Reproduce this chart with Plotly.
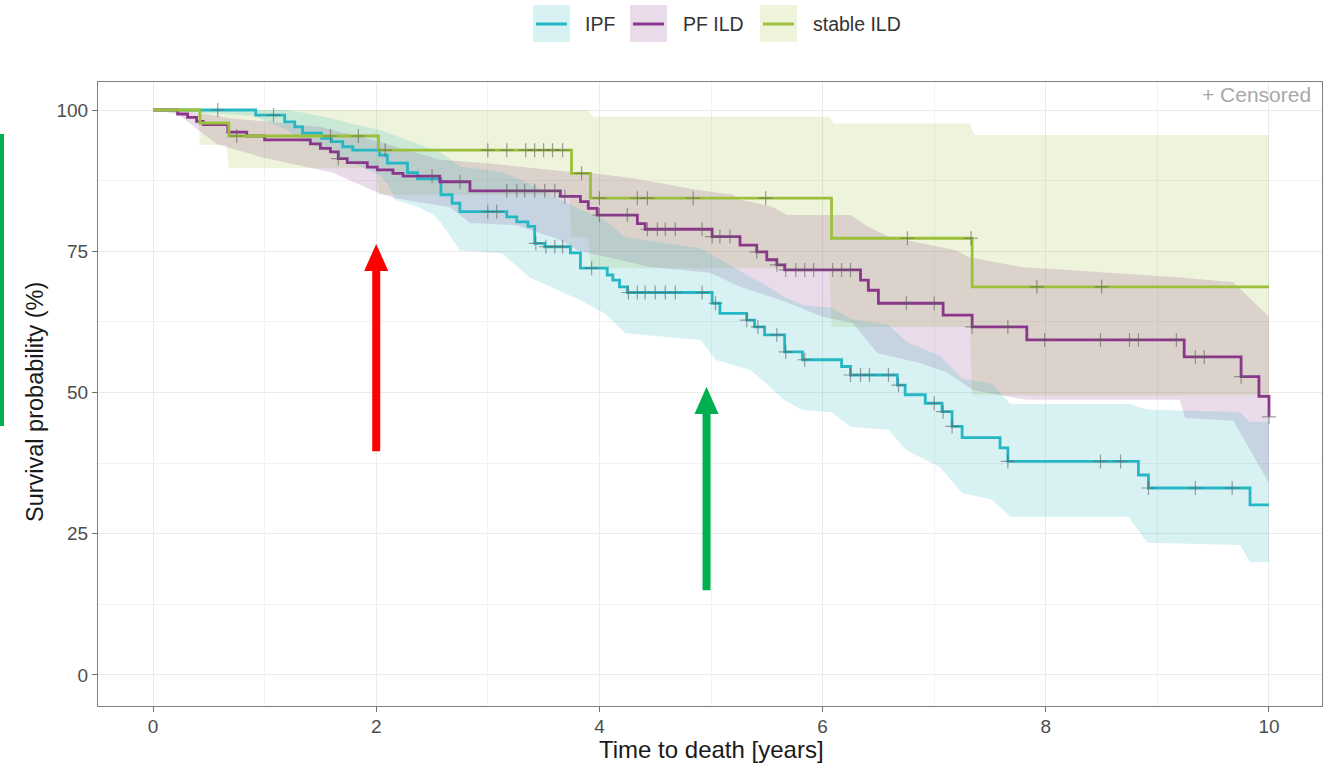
import numpy as np
import plotly.graph_objects as go

# ---------------- data ----------------
groups = ["IPF", "PF ILD", "stable ILD"]

ipf_t = [0, 0.92, 1.18, 1.27, 1.34, 1.51, 1.60, 1.70, 1.79, 2.03, 2.10, 2.28, 2.37, 2.58, 2.68, 2.75,
         3.17, 3.26, 3.36, 3.42, 3.51, 3.74, 3.83, 4.07, 4.12, 4.18, 4.25, 5.01, 5.08, 5.32, 5.39, 5.48,
         5.66, 5.82, 6.17, 6.25, 6.67, 6.74, 6.92, 7.07, 7.16, 7.25, 7.59, 7.66, 8.83, 8.92, 9.83, 10.0]
ipf_s = [100, 99.1, 97.9, 97.0, 95.9, 95.0, 94.4, 93.5, 92.9, 92.0, 90.6, 88.9, 87.8, 85.0, 83.5, 82.0,
         81.1, 80.2, 79.4, 76.4, 75.8, 74.7, 72.0, 70.8, 69.9, 68.7, 67.7, 65.8, 64.0, 62.8, 61.6, 60.2,
         57.2, 55.8, 54.6, 53.1, 51.3, 49.6, 48.1, 46.6, 44.0, 42.0, 40.2, 37.8, 35.4, 33.1, 30.1, 30.1]
ipf_cens = [0.58, 1.08, 3.0, 3.08, 3.43, 3.52, 3.6, 3.67, 3.93, 4.26, 4.34, 4.41, 4.5, 4.59, 4.68, 4.92,
            5.04, 5.32, 5.42, 5.59, 5.67, 5.84, 6.25, 6.34, 6.42, 6.59, 6.68, 7.0, 7.08, 7.16, 7.66,
            8.49, 8.67, 8.92, 9.34, 9.67]
ipf_lo_t = [0, 0.9, 1.2, 1.35, 1.6, 1.8, 2.03, 2.1, 2.17, 2.37, 2.51, 2.58, 2.75, 3.13, 3.37, 3.82, 4.05,
            4.23, 4.91, 5.04, 5.35, 5.49, 5.65, 5.82, 6.08, 6.25, 6.59, 6.75, 7.05, 7.25, 7.52, 7.68, 8.74,
            8.91, 9.74, 9.83, 10.0]
ipf_lo = [100, 99, 96.5, 94.5, 92.5, 90.5, 88.5, 87, 84.1, 82.9, 81.5, 80, 75.2, 74.6, 70.4, 66.4, 64,
          60.5, 59.3, 55.8, 54, 51.7, 48.7, 46.9, 46.5, 43.9, 43.4, 39.8, 36.8, 32.2, 31, 28, 28,
          23.4, 23, 20, 20]
ipf_hi_t = [0, 1.2, 1.35, 1.6, 1.8, 2.03, 2.17, 2.37, 2.58, 2.75, 3.13, 3.37, 3.82, 4.05, 4.23, 4.91,
            5.04, 5.35, 5.49, 5.65, 5.82, 6.08, 6.25, 6.59, 6.75, 7.05, 7.25, 7.52, 7.68, 8.74, 8.91,
            9.74, 9.83, 10.0]
ipf_hi = [100, 100, 99.5, 98.5, 97.5, 96.5, 95.5, 94, 92.5, 90, 89, 87, 82.5, 80.5, 77.5, 75.5,
          74, 70.5, 69, 67, 65.5, 65, 63, 62, 59, 56.5, 52.5, 51.5, 48, 48, 47,
          46.5, 44.8, 44.8]

pf_t = [0, 0.22, 0.31, 0.39, 0.45, 0.67, 0.84, 1.0, 1.41, 1.50, 1.59, 1.66, 1.74, 1.92, 2.01, 2.15, 2.24,
        2.57, 2.84, 3.65, 3.83, 3.90, 3.98, 4.34, 4.41, 5.01, 5.26, 5.41, 5.50, 5.59, 5.66, 6.34, 6.41,
        6.50, 7.08, 7.34, 7.83, 9.24, 9.75, 9.91, 10.0]
pf_s = [100, 99.3, 98.7, 98.0, 97.4, 96.1, 95.4, 94.7, 94.0, 93.2, 92.6, 91.4, 90.7, 89.9, 89.4, 88.8, 88.3,
        87.3, 85.7, 84.7, 83.8, 82.6, 81.4, 79.9, 78.9, 77.6, 76.1, 74.9, 73.5, 72.6, 71.7, 69.9, 68.1,
        65.8, 63.7, 61.6, 59.3, 56.3, 52.8, 49.3, 45.7]
pf_cens = [1.66, 2.5, 2.75, 3.17, 3.26, 3.33, 3.42, 3.51, 3.6, 3.69, 4.0, 4.25, 4.43, 4.52, 4.59, 4.68,
           4.92, 5.01, 5.08, 5.17, 5.41, 5.59, 5.67, 5.76, 5.84, 5.92, 6.09, 6.17, 6.25, 6.75, 7.0,
           7.34, 7.66, 7.99, 8.49, 8.75, 8.83, 9.17, 9.34, 9.42, 9.75, 10.0]
pf_lo_t = [0, 0.22, 0.57, 1.0, 1.6, 2.0, 2.17, 2.66, 2.84, 3.26, 3.65, 3.8, 4.45, 4.99, 5.26, 5.62, 6.0,
           6.27, 6.49, 6.87, 7.11, 7.35, 7.83, 9.2, 9.25, 9.68, 10.0]
pf_lo = [100, 99.3, 94, 91.5, 89, 85.5, 84.4, 82.8, 80, 79.6, 77, 75.2, 72.2, 71.2, 68.7, 66.4, 63.4,
         62.3, 57, 55.2, 53.6, 50.4, 48.7, 48.7, 45.5, 45, 34]
pf_hi_t = [0, 0.22, 0.4, 0.7, 1.0, 1.5, 2.0, 2.57, 2.99, 3.7, 3.94, 4.27, 4.9, 5.2, 5.26, 5.55, 5.68,
           6.25, 6.41, 6.59, 7.19, 7.31, 7.78, 9.18, 9.68, 10.0]
pf_hi = [100, 100, 99.5, 98.5, 98, 97, 94.5, 91.2, 90.6, 89.1, 88.8, 88, 85.8, 85, 84.1, 82.9, 81.4,
         81.4, 79.3, 77.6, 75.2, 74, 72.2, 70.4, 69.5, 63.4]

st_t = [0, 0.42, 0.68, 2.02, 3.75, 3.92, 6.08, 7.34, 10.0]
st_s = [100, 97.7, 95.4, 92.9, 88.8, 84.4, 77.3, 68.7, 68.7]
st_cens = [0.75, 1.59, 1.84, 2.08, 3.0, 3.17, 3.34, 3.42, 3.5, 3.58, 3.67, 3.84, 4.0, 4.34, 4.43, 4.84,
           5.49, 6.76, 7.33, 7.92, 8.5]
st_lo_t = [0, 0.41, 0.42, 0.66, 0.68, 2.0, 2.02, 3.73, 3.75, 3.9, 3.92, 6.06, 6.08, 7.32, 7.34, 10.0]
st_lo = [100, 100, 93.8, 93.8, 89.7, 89.7, 85.0, 85.0, 77.5, 77.5, 72.0, 72.0, 61.6, 61.6, 49.5, 49.5]
st_hi_t = [0, 3.9, 3.95, 6.06, 6.1, 7.32, 7.36, 10.0]
st_hi = [100, 100, 98.8, 98.8, 97.6, 97.6, 95.6, 95.6]

x_ticks = [0, 2, 4, 6, 8, 10]
y_ticks = [0, 25, 50, 75, 100]

# ---------------- styling ----------------
colors = {"IPF": (38, 183, 196), "PF ILD": (139, 54, 140), "stable ILD": (157, 192, 58)}
ALPHA = 0.18
FONT = "Liberation Sans, Arial, sans-serif"

series = {
    "IPF": (ipf_t, ipf_s, ipf_cens, ipf_lo_t, ipf_lo, ipf_hi_t, ipf_hi),
    "PF ILD": (pf_t, pf_s, pf_cens, pf_lo_t, pf_lo, pf_hi_t, pf_hi),
    "stable ILD": (st_t, st_s, st_cens, st_lo_t, st_lo, st_hi_t, st_hi),
}


def rgb(c, a=None):
    return f"rgb({c[0]},{c[1]},{c[2]})" if a is None else f"rgba({c[0]},{c[1]},{c[2]},{a})"


def step_at(ts, ss, c):
    idx = np.searchsorted(np.asarray(ts), c, side="right") - 1
    return np.asarray(ss)[idx]


fig = go.Figure()

# confidence bands
for g in ["stable ILD", "PF ILD", "IPF"]:
    t, s, cens, lo_t, lo, hi_t, hi = series[g]
    fig.add_trace(go.Scatter(
        x=list(hi_t) + list(lo_t)[::-1], y=list(hi) + list(lo)[::-1],
        mode="lines", fill="toself", fillcolor=rgb(colors[g], ALPHA),
        line=dict(width=0), hoverinfo="skip", showlegend=False))

# survival curves
for g in ["IPF", "PF ILD", "stable ILD"]:
    t, s, cens, *_ = series[g]
    fig.add_trace(go.Scatter(x=t, y=s, mode="lines", name=g,
                             line=dict(color=rgb(colors[g]), width=2.8, shape="hv"),
                             showlegend=False))

# censor marks
for g in ["IPF", "PF ILD", "stable ILD"]:
    t, s, cens, *_ = series[g]
    fig.add_trace(go.Scatter(
        x=cens, y=step_at(t, s, cens), mode="markers",
        marker=dict(symbol="cross-thin", size=10,
                    line=dict(width=1.2, color="rgba(95,95,95,0.6)")),
        showlegend=False, hoverinfo="skip"))

# ---------------- layout ----------------
L, T, W, H = 98, 82, 1224, 624  # plot area in pixels


def px(xp):
    return (xp - L) / W


def py(yp):
    return (T + H - yp) / H


shapes = []
annotations = []

# custom legend (top centre)
leg_items = [("IPF", 533, 583), ("PF ILD", 630, 681), ("stable ILD", 760, 811)]
for g, bx, tx in leg_items:
    shapes.append(dict(type="rect", xref="paper", yref="paper",
                       x0=px(bx), x1=px(bx + 37), y0=py(42), y1=py(5),
                       fillcolor=rgb(colors[g], ALPHA), line=dict(width=0)))
    shapes.append(dict(type="line", xref="paper", yref="paper",
                       x0=px(bx + 3), x1=px(bx + 34), y0=py(24), y1=py(24),
                       line=dict(color=rgb(colors[g]), width=3)))
    annotations.append(dict(xref="paper", yref="paper", x=px(tx), y=py(24), text=g,
                            showarrow=False, xanchor="left", yanchor="middle",
                            font=dict(family=FONT, size=19.5, color="#333333")))

annotations.append(dict(xref="paper", yref="paper", x=px(1313), y=py(94), text="+ Censored",
                        showarrow=False, xanchor="right", yanchor="middle",
                        font=dict(family=FONT, size=21, color="#A8A8A8")))

# axis titles placed explicitly
annotations.append(dict(xref="paper", yref="paper", x=px(35), y=py(402), text="Survival probability (%)",
                        showarrow=False, textangle=-90, xanchor="center", yanchor="middle",
                        font=dict(family=FONT, size=23.5, color="#1A1A1A")))
annotations.append(dict(xref="paper", yref="paper", x=px(711), y=py(749), text="Time to death [years]",
                        showarrow=False, xanchor="center", yanchor="middle",
                        font=dict(family=FONT, size=24, color="#1A1A1A")))


# overlay arrows (data coordinates) and side bar
def arrow(x, y0, y1, color):
    hw, hh = 0.108, 4.8
    shapes.append(dict(type="line", xref="x", yref="y", x0=x, x1=x, y0=y0, y1=y1 - hh + 0.5,
                       line=dict(color=color, width=8), layer="above"))
    shapes.append(dict(type="path", xref="x", yref="y",
                       path=f"M {x - hw},{y1 - hh} L {x + hw},{y1 - hh} L {x},{y1} Z",
                       fillcolor=color, line=dict(width=0), layer="above"))


arrow(2.0, 39.6, 76.3, "#FF0000")
arrow(4.96, 15.0, 51.0, "#00B050")
shapes.append(dict(type="rect", xref="paper", yref="paper", x0=px(0), x1=px(4),
                   y0=py(426), y1=py(134), fillcolor="#00B050", line=dict(width=0)))

axis_common = dict(
    showgrid=True, gridcolor="#EBEBEB", gridwidth=1.2, zeroline=False,
    showline=True, linecolor="#7F7F7F", linewidth=1.2, mirror=True,
    ticks="outside", ticklen=5, tickwidth=1.2, tickcolor="#6E6E6E",
    tickfont=dict(family=FONT, size=19, color="#4D4D4D"),
    automargin=False,
)

fig.update_layout(
    width=1332, height=764,
    margin=dict(l=L, r=1332 - L - W, t=T, b=764 - T - H, autoexpand=False),
    paper_bgcolor="white", plot_bgcolor="white",
    showlegend=False,
    xaxis=dict(range=[-0.493, 10.475], tickvals=x_ticks, ticklabelstandoff=-2,
               minor=dict(tickvals=[1, 3, 5, 7, 9], showgrid=True, gridcolor="#F2F2F2", gridwidth=0.8, ticks=""),
               **axis_common),
    yaxis=dict(range=[-5.49, 104.96], tickvals=y_ticks,
               minor=dict(tickvals=[12.5, 37.5, 62.5, 87.5], showgrid=True, gridcolor="#F2F2F2", gridwidth=0.8, ticks=""),
               **axis_common),
    shapes=shapes,
    annotations=annotations,
)

fig.write_html(
    "out.html",
    config={"displayModeBar": False},
    post_script="document.body.style.margin='0';document.body.style.padding='0';"
                "document.documentElement.style.overflow='hidden';",
)
